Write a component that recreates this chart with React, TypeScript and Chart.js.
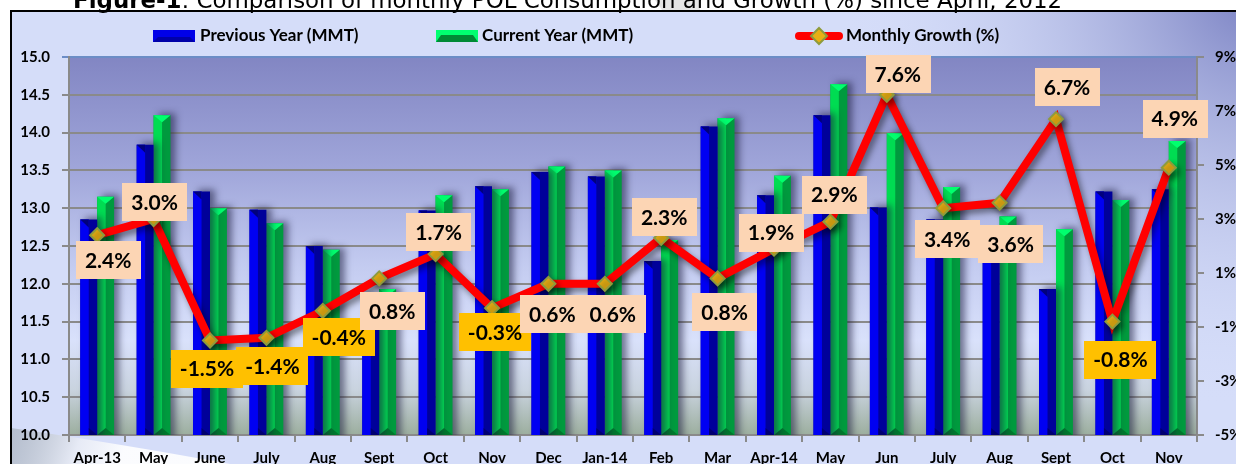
import React, { useEffect, useRef } from "react";
import { Chart, registerables } from "chart.js";

Chart.register(...registerables);

const categories = [
  "Apr-13", "May", "June", "July", "Aug", "Sept", "Oct", "Nov", "Dec", "Jan-14",
  "Feb", "Mar", "Apr-14", "May", "Jun", "July", "Aug", "Sept", "Oct", "Nov",
];
const previousYear = [
  12.85, 13.84, 13.22, 12.98, 12.5, 11.84, 12.97, 13.29, 13.48, 13.42,
  12.3, 14.08, 13.17, 14.23, 13.01, 12.85, 12.44, 11.93, 13.22, 13.25,
];
const currentYear = [
  13.15, 14.23, 13.0, 12.8, 12.45, 11.93, 13.17, 13.25, 13.55, 13.5,
  12.58, 14.19, 13.43, 14.64, 13.99, 13.28, 12.89, 12.72, 13.11, 13.89,
];
const growth = [
  2.4, 3.0, -1.5, -1.4, -0.4, 0.8, 1.7, -0.3, 0.6, 0.6,
  2.3, 0.8, 1.9, 2.9, 7.6, 3.4, 3.6, 6.7, -0.8, 4.9,
];
const leftMin = 10;
const leftMax = 15;
const leftStep = 0.5;
const rightMin = -5;
const rightMax = 9;
const rightStep = 2;

const seriesNames = ["Previous Year (MMT)", "Current Year (MMT)", "Monthly Growth (%)"];
const titleBold = "Figure-1";
const titleRest = ": Comparison of monthly POL Consumption and Growth (%) since April, 2012";

// label placement (pixel offset of each growth label box from its point)
const labelOffsets: [number, number][] = [
  [11, 25], [1, -17], [-3, 28], [6, 28], [16, 26], [13, 33], [3, -22], [3, 24], [4, 30], [8, 30],
  [3, -21], [7, 34], [-3, -16], [4, -27], [11, -21], [4, 31], [11, 41], [11, -32], [8, 38], [6, -49],
];

const FONT = "Lato, 'Noto Sans', sans-serif";

const bgPlugin = {
  id: "bgPlugin",
  beforeDraw(chart: any) {
    const { ctx, chartArea: ca, width, height } = chart;
    ctx.save();
    ctx.fillStyle = "#ffffff";
    ctx.fillRect(0, 0, width, height);
    const fx = 11, fy = 11;
    ctx.fillStyle = "#D5DDF9";
    ctx.fillRect(fx, fy, width - fx, height - fy);
    const g = ctx.createRadialGradient(width + 20, fy - 20, 0, width + 20, fy - 20, 420);
    g.addColorStop(0, "rgba(115,122,190,0.95)");
    g.addColorStop(1, "rgba(213,221,249,0)");
    ctx.fillStyle = g;
    ctx.fillRect(fx, fy, width - fx, height - fy);
    // bottom-left swoosh
    ctx.beginPath();
    ctx.moveTo(fx, 428);
    ctx.quadraticCurveTo(110, 442, 230, height);
    ctx.lineTo(fx, height);
    ctx.closePath();
    const sg = ctx.createLinearGradient(fx, 430, 120, height);
    sg.addColorStop(0, "rgba(150,160,165,0.5)");
    sg.addColorStop(0.6, "rgba(235,238,245,0.8)");
    sg.addColorStop(1, "rgba(255,255,255,0.9)");
    ctx.fillStyle = sg;
    ctx.fill();
    // faint watermark band in title area
    ctx.fillStyle = "rgba(0,0,0,0.10)";
    ctx.beginPath();
    ctx.moveTo(655, 0); ctx.lineTo(700, 0); ctx.lineTo(700, 10); ctx.lineTo(662, 10); ctx.closePath();
    ctx.fill();
    // frame border
    ctx.strokeStyle = "#000";
    ctx.lineWidth = 2;
    ctx.beginPath();
    ctx.moveTo(fx, height + 2);
    ctx.lineTo(fx, fy);
    ctx.lineTo(width + 2, fy);
    ctx.stroke();
    // plot area gradient
    const pg = ctx.createLinearGradient(0, ca.top, 0, ca.bottom);
    pg.addColorStop(0, "#8286C3");
    pg.addColorStop(0.3, "#A0A6DA");
    pg.addColorStop(0.55, "#C3CBF0");
    pg.addColorStop(0.75, "#D9E1FB");
    pg.addColorStop(0.88, "#C9D3DF");
    pg.addColorStop(1, "#9CAE9E");
    ctx.fillStyle = pg;
    ctx.fillRect(ca.left, ca.top, ca.right - ca.left, ca.bottom - ca.top);
    // title
    ctx.fillStyle = "#000";
    ctx.textBaseline = "alphabetic";
    ctx.textAlign = "left";
    const size = 27;
    ctx.font = `bold ${size}px 'DejaVu Sans', sans-serif`;
    const wb = ctx.measureText(titleBold).width;
    ctx.font = `${size}px 'DejaVu Sans', sans-serif`;
    const wr = ctx.measureText(titleRest).width;
    const scale = 990 / (wb + wr);
    const s2 = size * scale;
    ctx.font = `bold ${s2}px 'DejaVu Sans', sans-serif`;
    const wb2 = ctx.measureText(titleBold).width;
    const tx = 73;
    ctx.fillText(titleBold, tx, 8);
    ctx.font = `${s2}px 'DejaVu Sans', sans-serif`;
    ctx.fillText(titleRest, tx + wb2, 8);
    ctx.restore();
  },
};

const shadowPlugin = {
  id: "shadowPlugin",
  beforeDatasetDraw(chart: any, args: any) {
    const ctx = chart.ctx;
    ctx.save();
    if (args.meta.type === "bar") {
      ctx.shadowColor = "rgba(25,25,60,0.55)";
      ctx.shadowBlur = 7;
      ctx.shadowOffsetX = 5;
      ctx.shadowOffsetY = -2;
    } else {
      ctx.shadowColor = "rgba(0,0,0,0.45)";
      ctx.shadowBlur = 6;
      ctx.shadowOffsetX = 3;
      ctx.shadowOffsetY = 4;
    }
  },
  afterDatasetDraw(chart: any, args: any) {
    const ctx = chart.ctx;
    ctx.restore();
    const meta = args.meta;
    if (meta.type !== "bar") return;
    const ca = chart.chartArea;
    const isBlue = args.index === 0;
    ctx.save();
    ctx.beginPath();
    ctx.rect(ca.left, ca.top, ca.right - ca.left, ca.bottom - ca.top);
    ctx.clip();
    meta.data.forEach((el: any) => {
      const w = el.width;
      const x0 = el.x - w / 2;
      const xm = el.x;
      const top = el.y;
      const bottom = Math.min(el.base, ca.bottom);
      ctx.fillStyle = isBlue ? "#0000F2" : "#00DC52";
      ctx.fillRect(x0, top, w / 2, bottom - top);
      if (isBlue) {
        ctx.fillStyle = "#00007C";
        ctx.beginPath();
        ctx.moveTo(x0, top); ctx.lineTo(xm, top); ctx.lineTo(xm, top + 8); ctx.closePath();
        ctx.fill();
        ctx.fillStyle = "#000070";
        ctx.beginPath();
        ctx.moveTo(xm, bottom); ctx.lineTo(x0 + w, bottom); ctx.lineTo(xm, bottom - 7); ctx.closePath();
        ctx.fill();
      } else {
        ctx.fillStyle = "#00FF6E";
        ctx.beginPath();
        ctx.moveTo(x0, top); ctx.lineTo(x0 + w, top); ctx.lineTo(xm, top + 7); ctx.closePath();
        ctx.fill();
        ctx.fillStyle = "#00782E";
        ctx.beginPath();
        ctx.moveTo(x0, bottom); ctx.lineTo(x0 + w, bottom); ctx.lineTo(xm, bottom - 7); ctx.closePath();
        ctx.fill();
      }
    });
    ctx.restore();
  },
};

const labelPlugin = {
  id: "labelPlugin",
  afterDatasetsDraw(chart: any) {
    const ctx = chart.ctx;
    const meta = chart.getDatasetMeta(2);
    ctx.save();
    ctx.font = `bold 21px ${FONT}`;
    ctx.textAlign = "center";
    ctx.textBaseline = "middle";
    meta.data.forEach((pt: any, i: number) => {
      const v = growth[i];
      const text = v.toFixed(1) + "%";
      const tw = ctx.measureText(text).width;
      const w = tw + 18;
      const h = 38;
      const cx = pt.x + labelOffsets[i][0];
      const cy = pt.y + labelOffsets[i][1];
      ctx.fillStyle = v < 0 ? "#FFC000" : "#FCD5B4";
      ctx.fillRect(Math.round(cx - w / 2), Math.round(cy - h / 2), Math.round(w), h);
      ctx.fillStyle = "#000";
      ctx.fillText(text, cx, cy + 1);
    });
    ctx.restore();
  },
};

const legendPlugin = {
  id: "legendPlugin",
  afterDraw(chart: any) {
    const ctx = chart.ctx;
    ctx.save();
    const cy = 36;
    // blue swatch
    ctx.fillStyle = "#0000E8";
    ctx.fillRect(153, 30, 42, 12);
    ctx.fillStyle = "#0000A8";
    ctx.beginPath();
    ctx.moveTo(153, 42); ctx.lineTo(195, 42); ctx.lineTo(190, 37); ctx.lineTo(158, 37); ctx.closePath();
    ctx.fill();
    // green swatch
    ctx.fillStyle = "#00FF70";
    ctx.fillRect(436, 30, 42, 12);
    ctx.fillStyle = "#008A36";
    ctx.beginPath();
    ctx.moveTo(436, 42); ctx.lineTo(478, 42); ctx.lineTo(473, 35); ctx.lineTo(441, 35); ctx.closePath();
    ctx.fill();
    // line swatch
    ctx.strokeStyle = "#FF0000";
    ctx.lineWidth = 8;
    ctx.lineCap = "round";
    ctx.beginPath();
    ctx.moveTo(799, cy); ctx.lineTo(839, cy);
    ctx.stroke();
    ctx.fillStyle = "#E8B014";
    ctx.strokeStyle = "#8E9B3C";
    ctx.lineWidth = 2;
    ctx.beginPath();
    ctx.moveTo(819, cy - 8); ctx.lineTo(827, cy); ctx.lineTo(819, cy + 8); ctx.lineTo(811, cy); ctx.closePath();
    ctx.fill(); ctx.stroke();
    // texts
    ctx.fillStyle = "#000";
    ctx.font = `bold 17px ${FONT}`;
    ctx.textAlign = "left";
    ctx.textBaseline = "middle";
    ctx.fillText(seriesNames[0], 200, cy);
    ctx.fillText(seriesNames[1], 482, cy);
    ctx.fillText(seriesNames[2], 846, cy);
    ctx.restore();
  },
};

export default function App() {
  const ref = useRef<HTMLCanvasElement | null>(null);
  useEffect(() => {
    if (!ref.current) return;
    const tickFont = { family: FONT, weight: "bold" as const, size: 15 };
    const chart = new Chart(ref.current, {
      type: "bar",
      data: {
        labels: categories,
        datasets: [
          {
            type: "bar",
            label: seriesNames[0],
            data: previousYear,
            backgroundColor: "#00009A",
            borderWidth: 0,
            yAxisID: "y",
            order: 1,
            categoryPercentage: 0.6,
            barPercentage: 1.0,
          },
          {
            type: "bar",
            label: seriesNames[1],
            data: currentYear,
            backgroundColor: "#009A3E",
            borderWidth: 0,
            yAxisID: "y",
            order: 1,
            categoryPercentage: 0.6,
            barPercentage: 1.0,
          },
          {
            type: "line",
            label: seriesNames[2],
            data: growth,
            borderColor: "#FF0000",
            borderWidth: 8,
            tension: 0,
            yAxisID: "y1",
            order: 0,
            pointStyle: "rectRot",
            pointRadius: 7,
            pointBackgroundColor: "#E8B014",
            pointBorderColor: "#8E9B3C",
            pointBorderWidth: 2,
          } as any,
        ],
      },
      options: {
        responsive: false,
        animation: false,
        devicePixelRatio: 1,
        layout: { padding: { top: 57, left: 0, right: 0, bottom: 0 } },
        plugins: {
          legend: { display: false },
          title: { display: false },
          tooltip: { enabled: false },
        },
        scales: {
          x: {
            offset: true,
            grid: { offset: true, drawOnChartArea: false, tickLength: 7, color: "#8a8a8a", lineWidth: 2 },
            border: { display: true, color: "#8a8a8a", width: 2 },
            ticks: { color: "#000", font: tickFont, padding: 7, maxRotation: 0, autoSkip: false },
            afterFit: (s: any) => { s.height = 29; },
          },
          y: {
            position: "left",
            min: leftMin,
            max: leftMax,
            ticks: {
              stepSize: leftStep,
              color: "#000",
              font: tickFont,
              padding: 12,
              callback: (v: any) => Number(v).toFixed(1),
            },
            grid: {
              color: (c: any) => (c.tick && c.tick.value === leftMax ? "#6C8DC6" : "#8a8a8a"),
              lineWidth: 2,
              tickLength: 7,
            },
            border: { display: true, color: "#8a8a8a", width: 2 },
            afterFit: (s: any) => { s.width = 69; },
          },
          y1: {
            position: "right",
            min: rightMin,
            max: rightMax,
            ticks: {
              stepSize: rightStep,
              color: "#000",
              font: tickFont,
              padding: 11,
              callback: (v: any) => `${v}%`,
            },
            grid: { drawOnChartArea: false, tickLength: 7, color: "#8a8a8a", lineWidth: 2 },
            border: { display: true, color: "#8a8a8a", width: 2 },
            afterFit: (s: any) => { s.width = 39; },
          },
        },
      },
      plugins: [bgPlugin, shadowPlugin, labelPlugin, legendPlugin],
    });
    return () => chart.destroy();
  }, []);
  return (
    <div style={{ position: "fixed", left: 0, top: 0, width: 1236, height: 464, overflow: "hidden" }}>
      <canvas ref={ref} width={1236} height={464} style={{ display: "block", width: 1236, height: 464 }} />
    </div>
  );
}
